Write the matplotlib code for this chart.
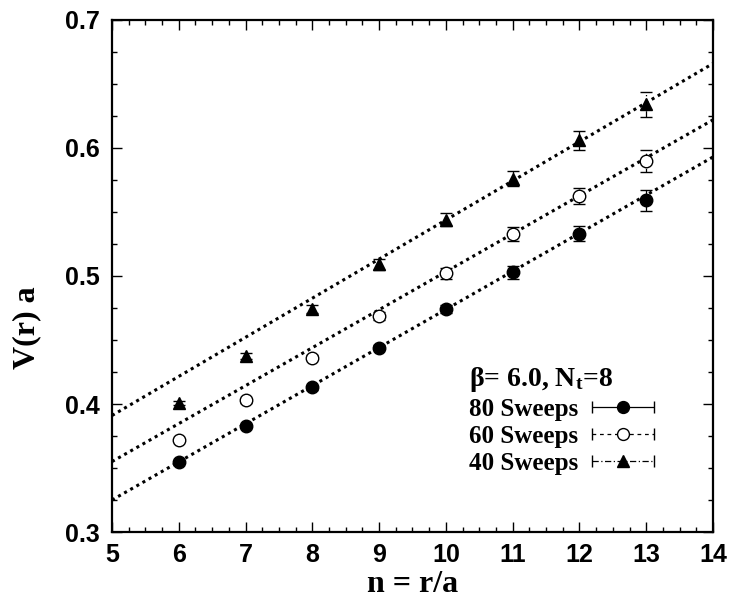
import numpy as np
import matplotlib
matplotlib.use("Agg")
import matplotlib.pyplot as plt
from matplotlib.ticker import MultipleLocator
from matplotlib.legend_handler import HandlerErrorbar

plt.rcParams['mathtext.fontset'] = 'custom'
plt.rcParams['mathtext.rm'] = 'Liberation Serif:bold'
plt.rcParams['mathtext.it'] = 'Liberation Serif:bold'
plt.rcParams['mathtext.bf'] = 'Liberation Serif:bold'

# ---- data ----
n = [6, 7, 8, 9, 10, 11, 12, 13]
v80 = [0.355, 0.383, 0.413, 0.444, 0.474, 0.503, 0.533, 0.559]
e80 = [0.001, 0.0015, 0.002, 0.002, 0.003, 0.005, 0.006, 0.008]
v60 = [0.372, 0.403, 0.436, 0.469, 0.502, 0.533, 0.5625, 0.590]
e60 = [0.0015, 0.002, 0.002, 0.003, 0.004, 0.0055, 0.0066, 0.0085]
v40 = [0.401, 0.4375, 0.474, 0.509, 0.544, 0.576, 0.606, 0.634]
e40 = [0.0015, 0.002, 0.003, 0.004, 0.005, 0.006, 0.0074, 0.0094]
labels = ["80 Sweeps", "60 Sweeps", "40 Sweeps"]
# linear fits: value at n=5 and n=14
fit_n = [5, 14]
fit80 = [0.325, 0.593]
fit60 = [0.355, 0.622]
fit40 = [0.391, 0.666]

fig = plt.figure(figsize=(7.34, 6.02), dpi=100)
ax = fig.add_axes([112/734, 1-532/602, 601/734, 512/602])

for fv in (fit80, fit60, fit40):
    ax.plot(fit_n, fv, color='black', lw=2.2, linestyle=(0, (1, 1.3)), zorder=2)

styles = [
    dict(vals=v80, errs=e80, marker='o', mfc='black', ms=9, ls='-'),
    dict(vals=v60, errs=e60, marker='o', mfc='white', ms=9, ls=(0, (3, 3))),
    dict(vals=v40, errs=e40, marker='^', mfc='black', ms=8.5, ls=(0, (5, 2, 1, 2))),
]
for s in styles:
    c = ax.errorbar(n, s['vals'], yerr=s['errs'], fmt=s['marker'], mfc=s['mfc'],
                    mec='black', ms=s['ms'], mew=1.0, ecolor='black', elinewidth=0.9,
                    capsize=4, capthick=0.9, zorder=3)
    c[2][0].set_linestyle(s['ls'])

# legend proxies
handles = []
hmap = {}
for s, lab in zip(styles, labels):
    c = ax.errorbar([np.nan], [np.nan], xerr=[1], fmt=s['marker'], mfc=s['mfc'],
                    mec='black', ms=s['ms'] * 0.95, mew=1.0, ecolor='black', elinewidth=0.9,
                    capsize=4, capthick=0.9, label=lab)
    c[2][0].set_linestyle(s['ls'])
    handles.append(c)
    hmap[c] = HandlerErrorbar(xerr_size=1.25)

leg = ax.legend(handles=handles, labels=labels, handler_map=hmap,
                loc='lower right', bbox_to_anchor=(0.94, 0.068), frameon=False,
                markerfirst=False, handlelength=2.5, numpoints=1,
                prop={'family': 'Liberation Serif', 'weight': 'bold', 'size': 18},
                title=r'β= 6.0, N$_{\mathrm{t}}$=8',
                title_fontproperties={'family': 'Liberation Serif', 'weight': 'bold', 'size': 20},
                labelspacing=0.16, handletextpad=0.55, alignment='left')

ax.set_xlim(5, 14)
ax.set_ylim(0.3, 0.7)
ax.xaxis.set_major_locator(MultipleLocator(1))
ax.xaxis.set_minor_locator(MultipleLocator(0.25))
ax.yaxis.set_major_locator(MultipleLocator(0.1))
ax.yaxis.set_minor_locator(MultipleLocator(0.025))
ax.tick_params(which='both', direction='in', top=True, right=True, width=1.0)
ax.tick_params(which='major', length=7, pad=8)
ax.tick_params(axis='y', which='major', pad=9)
ax.tick_params(which='minor', length=3.5)
for sp in ax.spines.values():
    sp.set_linewidth(1.6)
ax.set_xticklabels([f"{int(t)}" for t in ax.get_xticks()])
ax.set_yticklabels([f"{t:.1f}" for t in ax.get_yticks()])
for lab in ax.get_xticklabels() + ax.get_yticklabels():
    lab.set_fontfamily('Liberation Sans')
    lab.set_fontweight('bold')
    lab.set_fontsize(18)

ax.set_xlabel('n = r/a', fontfamily='Liberation Serif', fontweight='bold', fontsize=23, labelpad=2)
ax.set_ylabel('V(r) a', fontfamily='Liberation Serif', fontweight='bold', fontsize=23)
ax.yaxis.set_label_coords(-0.118, 0.40)

fig.savefig('out.png', dpi=100)
